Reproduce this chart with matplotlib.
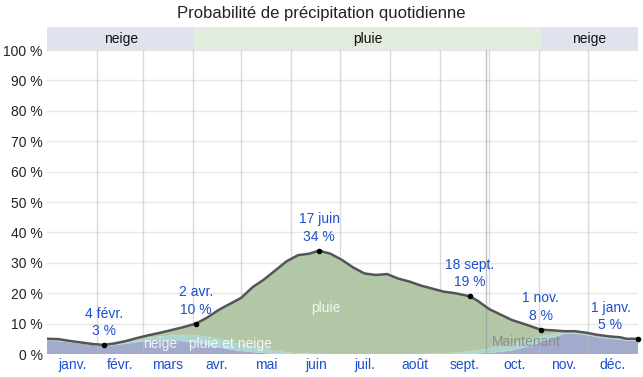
import matplotlib
matplotlib.use("Agg")
import matplotlib.pyplot as plt
import numpy as np

plt.rcParams['font.family'] = ['Liberation Sans', 'DejaVu Sans']

# Day-of-year sample positions (0 = 1 Jan)
days = [0, 7, 14, 21, 28, 35, 42, 49, 56, 63, 70, 77, 84, 92, 99, 106, 113, 120,
        127, 134, 141, 148, 155, 162, 168, 175, 182, 189, 196, 203, 210, 217, 224,
        231, 238, 245, 252, 261, 266, 273, 280, 287, 294, 305, 312, 319, 326, 333,
        340, 347, 354, 358, 365]
total = [5.0, 4.9, 4.3, 3.8, 3.3, 3.0, 3.5, 4.3, 5.3, 6.2, 7.0, 7.9, 8.8, 10.0, 12.0,
         14.5, 16.5, 18.5, 22.0, 24.5, 27.5, 30.5, 32.5, 33.0, 34.0, 33.0, 31.0, 28.5,
         26.5, 26.0, 26.3, 24.8, 23.8, 22.5, 21.5, 20.5, 20.0, 19.0, 17.5, 14.8, 13.0,
         11.2, 10.0, 8.0, 7.8, 7.5, 7.5, 7.0, 6.3, 5.8, 5.5, 5.0, 5.0]
neige = [4.3, 4.2, 3.8, 3.4, 3.0, 2.6, 2.9, 3.4, 3.9, 4.2, 4.3, 4.3, 4.2, 3.8, 3.0,
         2.2, 1.5, 1.0, 0.6, 0.3, 0.15, 0.05, 0, 0, 0, 0, 0, 0, 0, 0, 0, 0, 0,
         0, 0, 0, 0, 0.1, 0.2, 0.4, 0.7, 1.2, 2.0, 3.8, 5.2, 6.5, 6.8, 6.2,
         5.5, 5.0, 4.7, 4.4, 4.3]
pluie_neige = [0.4, 0.4, 0.4, 0.35, 0.3, 0.3, 0.4, 0.6, 0.9, 1.2, 1.5, 1.8, 2.1, 2.4,
               2.6, 2.7, 2.6, 2.3, 1.9, 1.4, 0.9, 0.5, 0.25, 0.1, 0.05, 0, 0, 0, 0, 0,
               0, 0, 0, 0, 0.1, 0.25, 0.45, 0.8, 1.0, 1.4, 1.8, 2.1, 2.3, 2.0, 1.3,
               0.8, 0.6, 0.5, 0.5, 0.5, 0.5, 0.5, 0.5]

months = ["janv.", "févr.", "mars", "avr.", "mai", "juin", "juil.", "août",
          "sept.", "oct.", "nov.", "déc."]
month_starts = [0, 31, 59, 90, 120, 151, 181, 212, 243, 273, 304, 334, 365]

ann_days = [35, 92, 168, 261, 305, 365]
ann_vals = [3, 10, 34, 19, 8, 5]
ann_labels = ["4 févr.", "2 avr.", "17 juin", "18 sept.", "1 nov.", "1 janv."]

bands = [(0, 91, "neige"), (91, 305, "pluie"), (305, 365, "neige")]
now_day = 271

c_neige = "#a3abcd"
c_mix = "#afd5d2"
c_pluie = "#b2c7a6"
c_text = "#1c4fcf"

fig = plt.figure(figsize=(6.43, 3.77), dpi=100)
ax = fig.add_axes([47/643, 23/377, 591/643, 304/377])

d = np.array(days, dtype=float)
t = np.array(total)
n = np.array(neige)
m = np.array(pluie_neige)
p = np.clip(t - n - m, 0, None)

ax.stackplot(d, n, m, p, colors=[c_neige, c_mix, c_pluie], linewidth=0)

for v in range(10, 101, 10):
    ax.axhline(v, color="#e8e8e8", lw=1, zorder=0.5)
for s in month_starts[1:-1]:
    ax.axvline(s, color="#bdbdbd", lw=1, zorder=3, alpha=0.55)
ax.axvline(now_day, color="#9a9a9a", lw=1, zorder=3, alpha=0.6)

ax.plot(d, t, color="#555555", lw=1.8, zorder=4)

for ad, av, al in zip(ann_days, ann_vals, ann_labels):
    ax.plot([ad], [av], 'o', color="black", ms=3, zorder=5, clip_on=False)
    tx = min(ad, 348)
    ax.text(tx, av + 2.3, f"{al}\n{av} %", ha="center", va="bottom",
            color=c_text, fontsize=10, linespacing=1.3, zorder=6)

ax.text(70, 3.3, "neige", color="white", alpha=0.85, fontsize=10, ha="center", va="center", zorder=6)
ax.text(113, 3.3, "pluie et neige", color="white", alpha=0.85, fontsize=10, ha="center", va="center", zorder=6)
ax.text(172, 15, "pluie", color="white", alpha=0.85, fontsize=10, ha="center", va="center", zorder=6)
ax.text(296, 3.8, "Maintenant", color="#888888", alpha=0.9, fontsize=10, ha="center", va="center", zorder=6)

ax.set_xlim(0, 365)
ax.set_ylim(0, 100)
ax.set_yticks(range(0, 101, 10))
ax.set_yticklabels([f"{v} %" for v in range(0, 101, 10)], fontsize=10, color="#222222")
mids = [(month_starts[i] + month_starts[i + 1]) / 2 for i in range(12)]
ax.set_xticks(mids)
ax.set_xticklabels(months, fontsize=10, color=c_text)
ax.tick_params(length=0, pad=3)
for sp in ax.spines.values():
    sp.set_visible(False)

bax = fig.add_axes([47/643, (377-50)/377, 591/643, 23/377])
bax.set_xlim(0, 365)
bax.set_ylim(0, 1)
for b0, b1, lab in bands:
    col = "#dfe3ee" if lab == "neige" else "#e2ecdf"
    bax.axvspan(b0, b1, color=col, lw=0)
    bax.text((b0 + b1) / 2, 0.5, lab, ha="center", va="center", fontsize=10, color="#111111")
bax.axis("off")

fig.suptitle("Probabilité de précipitation quotidienne", y=0.985, fontsize=12, color="#222222")

fig.savefig("out.png", dpi=100)
